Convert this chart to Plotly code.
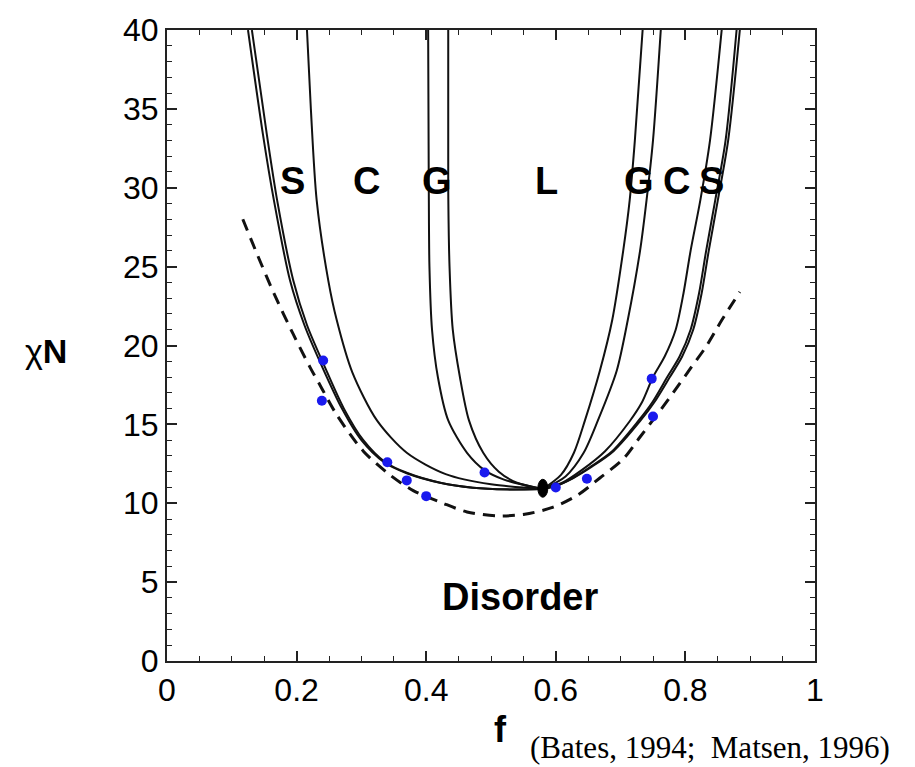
import plotly.graph_objects as go

# ---- phase boundaries (f, chiN) ----
# order-disorder (spheres) boundary, left and right branches
odt_left_f = [0.125, 0.148, 0.165, 0.190, 0.212, 0.240, 0.270, 0.300, 0.335, 0.370, 0.421, 0.472, 0.525, 0.580]
odt_left_chi = [40.0, 33.4, 29.2, 24.1, 21.3, 18.6, 16.0, 14.0, 12.6, 11.9, 11.3, 10.98, 10.87, 10.9]
scp_left_f = [0.131, 0.154, 0.170, 0.195, 0.216, 0.244, 0.273, 0.303, 0.337, 0.372, 0.422, 0.472, 0.525, 0.580]
scp_left_chi = [40.0, 33.4, 29.2, 24.1, 21.3, 18.6, 16.0, 14.0, 12.6, 11.9, 11.3, 10.99, 10.88, 10.9]

odt_right_f = [0.884, 0.866, 0.850, 0.836, 0.825, 0.812, 0.795, 0.776, 0.752, 0.730, 0.689, 0.655, 0.627, 0.600, 0.580]
odt_right_chi = [40.0, 33.0, 29.2, 26.0, 23.3, 21.0, 19.3, 18.0, 16.4, 15.2, 13.3, 12.3, 11.6, 11.1, 10.9]
scp_right_f = [0.879, 0.862, 0.846, 0.832, 0.821, 0.808, 0.791, 0.772, 0.749, 0.727, 0.687, 0.653, 0.626, 0.600, 0.580]
scp_right_chi = [40.0, 33.0, 29.2, 26.0, 23.3, 21.0, 19.3, 18.0, 16.4, 15.2, 13.3, 12.3, 11.6, 11.1, 10.9]

# spheres / cylinders
sc_left_f = [0.216, 0.222, 0.231, 0.249, 0.262, 0.286, 0.324, 0.370, 0.430, 0.500, 0.580]
sc_left_chi = [40.0, 35.0, 29.2, 24.1, 21.6, 18.3, 15.25, 13.2, 11.85, 11.2, 10.9]
sc_right_f = [0.856, 0.838, 0.823, 0.808, 0.797, 0.785, 0.768, 0.750, 0.733, 0.714, 0.676, 0.640, 0.610, 0.580]
sc_right_chi = [40.0, 33.0, 29.2, 26.0, 23.3, 21.0, 19.3, 18.0, 16.4, 15.2, 13.3, 12.1, 11.3, 10.9]

# cylinders / gyroid
cg_left_f = [0.403, 0.404, 0.405, 0.409, 0.418, 0.434, 0.463, 0.490, 0.520, 0.580]
cg_left_chi = [40.0, 30.0, 25.0, 21.0, 18.0, 15.25, 13.2, 12.1, 11.5, 10.9]
cg_right_f = [0.762, 0.750, 0.740, 0.730, 0.711, 0.694, 0.665, 0.643, 0.615, 0.580]
cg_right_chi = [40.0, 33.0, 29.2, 26.0, 21.6, 18.4, 15.25, 13.2, 11.7, 10.9]

# gyroid / lamellae
gl_left_f = [0.434, 0.434, 0.436, 0.441, 0.452, 0.466, 0.488, 0.512, 0.540, 0.580]
gl_left_chi = [40.0, 30.0, 25.0, 21.0, 18.0, 15.25, 13.2, 12.0, 11.3, 10.9]
gl_right_f = [0.734, 0.722, 0.714, 0.704, 0.687, 0.668, 0.645, 0.628, 0.608, 0.580]
gl_right_chi = [40.0, 33.0, 29.2, 26.0, 21.6, 18.4, 15.25, 13.2, 11.8, 10.9]

# fluctuation-corrected order-disorder transition (dashed)
dash_f = [0.117, 0.140, 0.165, 0.195, 0.221, 0.236, 0.262, 0.303, 0.344, 0.380, 0.426, 0.463,
          0.509, 0.552, 0.596, 0.633, 0.668, 0.704, 0.730, 0.756, 0.781, 0.807, 0.833, 0.856, 0.884]
dash_chi = [28.0, 25.7, 23.3, 20.7, 18.6, 17.5, 15.6, 13.3, 11.8, 10.8, 10.0, 9.45,
            9.2, 9.3, 9.75, 10.5, 11.6, 12.8, 14.2, 15.6, 17.0, 18.5, 20.0, 21.6, 23.4]

# experimental points
exp_f = [0.241, 0.239, 0.340, 0.370, 0.400, 0.490, 0.600, 0.648, 0.748, 0.750]
exp_chi = [19.05, 16.5, 12.6, 11.45, 10.45, 11.95, 11.0, 11.55, 17.9, 15.5]

# mean-field critical point
crit_f, crit_chi = 0.58, 10.95

# phase labels
phase_text = ["S", "C", "G", "L", "G", "C", "S"]
phase_f = [0.193, 0.308, 0.417, 0.585, 0.728, 0.787, 0.840]
phase_chi = [30.4, 30.4, 30.4, 30.4, 30.4, 30.4, 30.4]

x_ticks = [0, 0.2, 0.4, 0.6, 0.8, 1]
x_ticktext = ["0", "0.2", "0.4", "0.6", "0.8", "1"]
y_ticks = [0, 5, 10, 15, 20, 25, 30, 35, 40]

SANS = "Liberation Sans, Arial, sans-serif"
SERIF = "Liberation Serif, Times New Roman, serif"

fig = go.Figure()

solid = [
    (odt_left_f, odt_left_chi), (scp_left_f, scp_left_chi),
    (odt_right_f, odt_right_chi), (scp_right_f, scp_right_chi),
    (sc_left_f, sc_left_chi), (sc_right_f, sc_right_chi),
    (cg_left_f, cg_left_chi), (cg_right_f, cg_right_chi),
    (gl_left_f, gl_left_chi), (gl_right_f, gl_right_chi),
]
for fx, cy in solid:
    fig.add_trace(go.Scatter(x=fx, y=cy, mode="lines",
                             line=dict(color="#111111", width=2, shape="spline", smoothing=0.8),
                             hoverinfo="skip"))

fig.add_trace(go.Scatter(x=dash_f, y=dash_chi, mode="lines",
                         line=dict(color="#111111", width=3, dash="12px,8px",
                                   shape="spline", smoothing=0.8),
                         hoverinfo="skip"))

fig.add_trace(go.Scatter(x=exp_f, y=exp_chi, mode="markers",
                         marker=dict(color="#1a1aee", size=10, line=dict(width=0))))

# critical point drawn as a small filled ellipse
fig.add_shape(type="circle", xref="x", yref="y", xsizemode="pixel", ysizemode="pixel",
              xanchor=crit_f, yanchor=crit_chi, x0=-5, x1=5, y0=-9, y1=9,
              fillcolor="#000000", line=dict(color="#000000", width=1))

for t, fx, cy in zip(phase_text, phase_f, phase_chi):
    fig.add_annotation(x=fx, y=cy, text="<b>%s</b>" % t, showarrow=False,
                       xanchor="center", yanchor="middle",
                       font=dict(family=SANS, size=38, color="black"))

fig.add_annotation(x=0.545, y=4.05, text="<b>Disorder</b>", showarrow=False,
                   xanchor="center", yanchor="middle",
                   font=dict(family=SANS, size=38, color="black"))

# axis titles
fig.add_annotation(xref="paper", yref="paper", x=0.514, y=-0.109, text="<b>f</b>",
                   xanchor="center", yanchor="middle",
                   showarrow=False, font=dict(family=SANS, size=36, color="black"))
fig.add_annotation(xref="paper", yref="paper", x=-0.187, y=0.491, text="\u03c7<b>N</b>",
                   xanchor="center", yanchor="middle",
                   showarrow=False, font=dict(family=SANS, size=34, color="black"))
fig.add_annotation(xref="paper", yref="paper", x=0.557, y=-0.137, xanchor="left",
                   yanchor="middle", text="(Bates, 1994;\u00a0 Matsen, 1996)",
                   showarrow=False, font=dict(family=SERIF, size=31, color="black"))

axis_common = dict(showgrid=False, zeroline=False, showline=True, linecolor="#222222",
                   linewidth=2, mirror="allticks", ticks="inside", ticklen=10,
                   tickwidth=1.5, tickcolor="#222222",
                   tickfont=dict(family=SANS, size=32, color="black"))

fig.update_xaxes(range=[0, 1], tickvals=x_ticks, ticktext=x_ticktext,
                 minor=dict(dtick=0.05, ticks="inside", ticklen=5, tickwidth=1.2,
                            tickcolor="#222222", showgrid=False),
                 **axis_common)
fig.update_yaxes(range=[0, 40], tickvals=y_ticks,
                 minor=dict(dtick=1, ticks="inside", ticklen=5, tickwidth=1.2,
                            tickcolor="#222222", showgrid=False),
                 **axis_common)

fig.update_layout(width=915, height=767, margin=dict(l=167, r=100, t=28, b=106),
                  plot_bgcolor="white", paper_bgcolor="white", showlegend=False)

fig.write_html("out.html")
